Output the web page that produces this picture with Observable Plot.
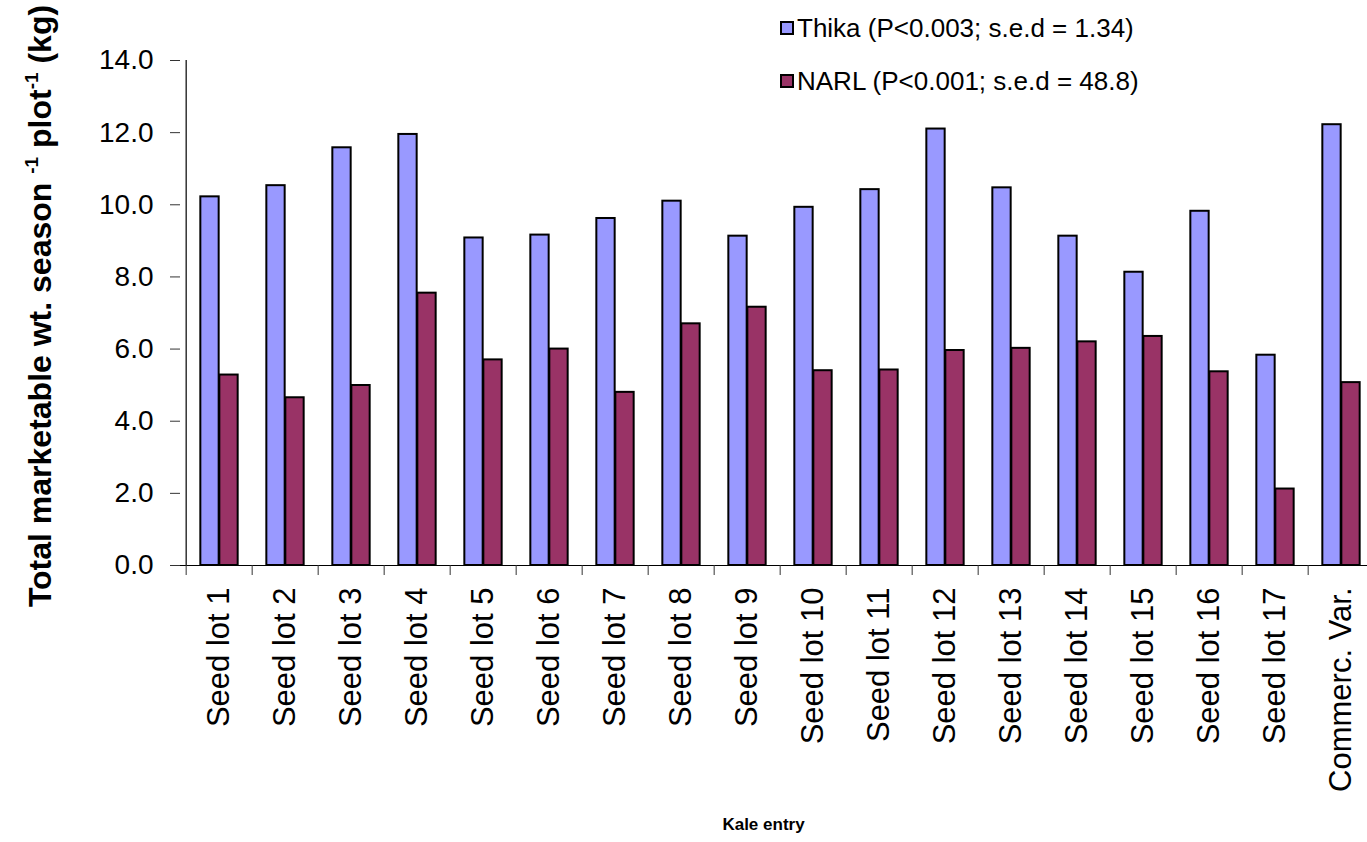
<!DOCTYPE html>
<html>
<head>
<meta charset="utf-8">
<script src="https://cdn.jsdelivr.net/npm/d3@7"></script>
<script src="https://cdn.jsdelivr.net/npm/@observablehq/plot@0.6"></script>
<style>
  html, body { margin: 0; padding: 0; background: white; overflow: hidden; }
  #wrap { position: relative; width: 1367px; height: 842px; overflow: hidden; }
  #chart svg { max-width: none !important; }
  #legend { position: absolute; left: 780px; top: 10px; font-family: "Liberation Sans", Arial, sans-serif; font-size: 26px; color: black; }
  #legend .item { display: flex; align-items: center; height: 36px; margin-bottom: 17px; }
  #legend .swatch { width: 10px; height: 10px; border: 2px solid black; margin-right: 3px; }
</style>
</head>
<body>
<div id="wrap">
  <div id="chart"></div>
  <div id="legend"></div>
</div>
<script>
// Kale entries on the x axis
const categories = [
  "Seed lot 1", "Seed lot 2", "Seed lot 3", "Seed lot 4", "Seed lot 5", "Seed lot 6",
  "Seed lot 7", "Seed lot 8", "Seed lot 9", "Seed lot 10", "Seed lot 11", "Seed lot 12",
  "Seed lot 13", "Seed lot 14", "Seed lot 15", "Seed lot 16", "Seed lot 17", "Commerc. Var."
];
// Sites (series)
const series = ["Thika", "NARL"];
const seriesLabels = ["Thika (P<0.003; s.e.d = 1.34)", "NARL (P<0.001; s.e.d = 48.8)"];
const seriesColors = ["#9999FF", "#993366"];
// Total marketable weight per season per plot (kg)
const thika = [10.22, 10.53, 11.58, 11.95, 9.08, 9.16, 9.62, 10.1, 9.13, 9.93, 10.42, 12.1, 10.47, 9.13, 8.13, 9.82, 5.83, 12.22];
const narl  = [5.28, 4.65, 4.99, 7.55, 5.7, 6.0, 4.8, 6.7, 7.16, 5.4, 5.42, 5.96, 6.02, 6.2, 6.35, 5.37, 2.12, 5.07];
// Value axis ticks
const yTicks = [0, 2, 4, 6, 8, 10, 12, 14];

const rows = categories.flatMap((c, i) => [
  {entry: c, site: series[0], value: thika[i]},
  {entry: c, site: series[1], value: narl[i]}
]);

const W = 1380, H = 842, ML = 180, MR = 0, MT = 60, MB = 277;
const step = (W - ML - MR) / categories.length;   // width of one entry band
const barW = step * 0.285;                          // width of one bar
const gap = (step - 2 * barW) / 2;                  // space either side of a bar pair
const font = "'Liberation Sans', Arial, sans-serif";

const barOpts = {x: "entry", y: "value", fill: "site", stroke: "black", strokeWidth: 2};

const svg = Plot.plot({
  width: W, height: H,
  marginLeft: ML, marginRight: MR, marginTop: MT, marginBottom: MB,
  style: {fontFamily: font, background: "white", color: "black", overflow: "visible", maxWidth: "none"},
  x: {domain: categories, padding: 0},
  y: {domain: [0, 14]},
  color: {domain: series, range: seriesColors},
  marks: [
    Plot.barY(rows, {...barOpts, filter: d => d.site === series[0], insetLeft: gap, insetRight: step - gap - barW}),
    Plot.barY(rows, {...barOpts, filter: d => d.site === series[1], insetLeft: gap + barW, insetRight: gap}),
    Plot.ruleY([0], {stroke: "black", strokeWidth: 1.2}),
    Plot.ruleX([categories[0]], {y1: 0, y2: 14, dx: -step / 2, stroke: "black", strokeWidth: 1.2}),
    Plot.axisY({ticks: yTicks, tickFormat: d3.format(".1f"), tickSize: 10, tickPadding: 17, fontSize: 28, label: null, stroke: "#333"}),
    Plot.axisX({tickSize: 10, tickFormat: () => "", dx: -step / 2, label: null, stroke: "#333"}),
    Plot.axisX({tickSize: 0, tickRotate: -90, tickPadding: 22, fontSize: 31, label: null}),
    Plot.text(["Kale entry"], {text: d => d, frameAnchor: "bottom", dx: -17, dy: 264, fontWeight: "bold", fontSize: 17})
  ]
});

// Y-axis title with superscript exponents
const title = d3.select(svg).append("text")
  .attr("transform", "translate(51,306) rotate(-90)")
  .attr("text-anchor", "middle")
  .attr("font-family", font)
  .attr("font-weight", "bold")
  .attr("font-size", 32)
  .attr("fill", "black");
title.append("tspan").text("Total marketable wt. season ");
title.append("tspan").attr("dy", -13).attr("font-size", 19).text("-1");
title.append("tspan").attr("dy", 13).text(" plot");
title.append("tspan").attr("dy", -13).attr("font-size", 19).text("-1");
title.append("tspan").attr("dy", 13).text(" (kg)");

document.getElementById("chart").appendChild(svg);

// Legend
const legend = d3.select("#legend");
series.forEach((s, i) => {
  const item = legend.append("div").attr("class", "item");
  item.append("div").attr("class", "swatch").style("background", seriesColors[i]);
  item.append("span").text(seriesLabels[i]);
});
</script>
</body>
</html>
